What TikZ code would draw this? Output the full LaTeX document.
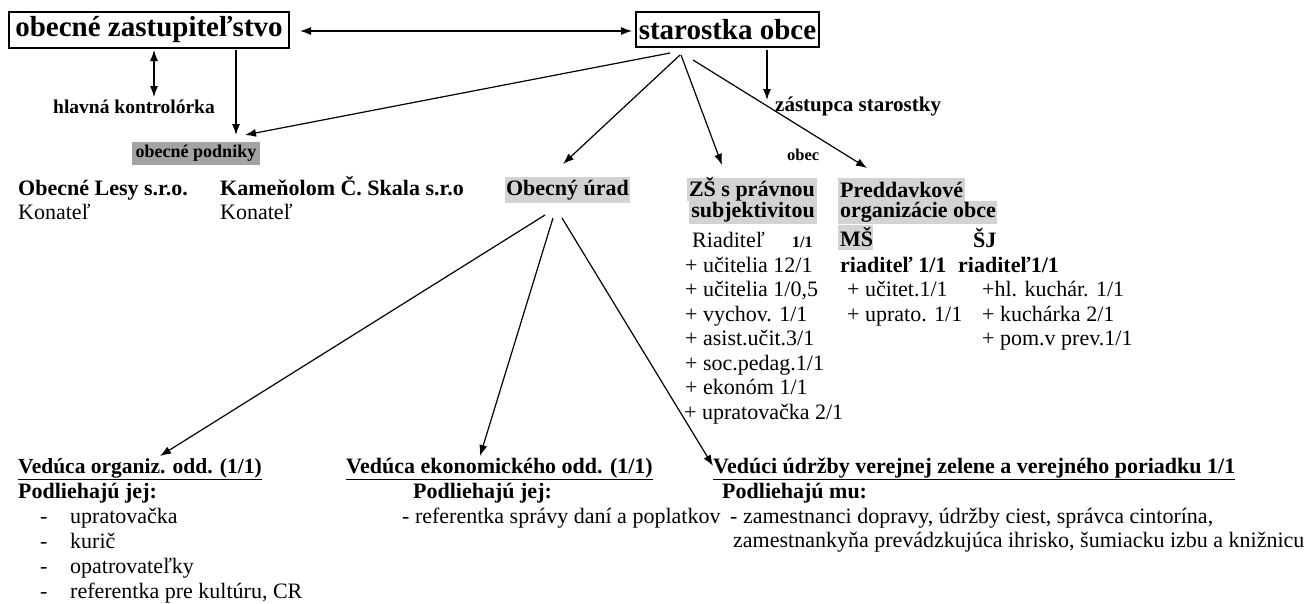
\documentclass[tikz,border=0pt]{standalone}
\usepackage{fontspec}
\setmainfont{Liberation Serif}
\usetikzlibrary{arrows.meta}
\definecolor{hlgrey}{HTML}{D3D3D3}
\definecolor{dkgrey}{HTML}{A3A3A3}
\newcommand{\fs}[1]{\fontsize{#1}{#1}\selectfont}
\tikzset{
  txt/.style={anchor=base west, inner sep=0pt, font=\fs{22}},
  btxt/.style={anchor=base west, inner sep=0pt, font=\fs{22}\bfseries},
  topbox/.style={draw, line width=1.1pt, inner sep=0pt, font=\fs{29}\bfseries},
  hlbox/.style={fill=hlgrey, inner sep=0pt, font=\fs{22}\bfseries},
  conn/.style={line width=1.2pt, -{Latex[length=11pt,width=8pt]}},
  dconn/.style={line width=1.2pt, {Latex[length=11pt,width=8pt]}-{Latex[length=11pt,width=8pt]}}
}
\begin{document}
\begin{tikzpicture}[x=1pt,y=-1pt]
\useasboundingbox (0,0) rectangle (1311,603);
% top boxes
\node[topbox, minimum width=280pt, minimum height=36pt] (zast) at (149,30) {obecné zastupiteľstvo};
\node[topbox, minimum width=183pt, minimum height=35pt] (star) at (727.5,29.5) {starostka obce};
% labels
\node[btxt, font=\fs{19.5}\bfseries] (kontr) at (53,113) {hlavná kontrolórka};
\node[fill=dkgrey, inner sep=0pt, minimum width=128pt, minimum height=23pt, font=\fs{18}\bfseries] (podn) at (196,153.5) {obecné podniky};
\node[btxt, font=\fs{21}\bfseries] (zast2) at (775,111) {zástupca starostky};
\node[btxt, font=\fs{16.5}\bfseries] (obec) at (787,160) {obec};
\node[btxt] (lesy) at (18,195) {Obecné Lesy s.r.o.};
\node[txt] (kon1) at (18,219) {Konateľ};
\node[btxt] (kamen) at (220,195) {Kameňolom Č. Skala s.r.o};
\node[txt] (kon2) at (220,219) {Konateľ};
\node[hlbox, minimum width=125pt, minimum height=26pt] (urad) at (567.5,190) {Obecný úrad};
\node[hlbox, minimum width=130pt, minimum height=23pt] (zs1) at (752,189.5) {ZŠ s právnou};
\node[hlbox, minimum width=128pt, minimum height=23pt] (zs2) at (753,212.5) {subjektivitou};
\node[hlbox, anchor=west, minimum height=23pt] (pred1) at (838,189.5) {\makebox[127pt][l]{\hspace*{2pt}Preddavkové}};
\node[hlbox, anchor=west, minimum height=23pt] (pred2) at (838,212.5) {\makebox[159pt][l]{\hspace*{2pt}organizácie obce}};
\node[hlbox, anchor=west, minimum height=25pt] (ms) at (838,237) {\makebox[35pt][l]{\hspace*{2pt}MŠ}};
% ZS list
\node[txt] (riad) at (692,247) {Riaditeľ};
\node[btxt, font=\fs{16}\bfseries] (riad1) at (792,247) {1/1};
\node[txt] (z1) at (685,272) {+ učitelia 12/1};
\node[txt] (z2) at (685,296) {+ učitelia 1/0,5};
\node[txt] (z3) at (685,321) {+ vychov. 1/1};
\node[txt] (z4) at (685,345) {+ asist.učit.3/1};
\node[txt] (z5) at (685,370) {+ soc.pedag.1/1};
\node[txt] (z6) at (685,394) {+ ekonóm 1/1};
\node[txt] (z7) at (684,419) {+ upratovačka 2/1};
% MS / SJ
\node[btxt] (sj) at (973,247) {ŠJ};
\node[btxt] (msr) at (840,272) {riaditeľ 1/1};
\node[btxt] (sjr) at (958,272) {riaditeľ1/1};
\node[txt] (m1) at (847,296) {+ učitet.1/1};
\node[txt] (m2) at (847,321) {+ uprato. 1/1};
\node[txt] (s1) at (982,296) {+hl. kuchár. 1/1};
\node[txt] (s2) at (982,321) {+ kuchárka 2/1};
\node[txt] (s3) at (982,345) {+ pom.v prev.1/1};
% bottom
\node[btxt, font=\fs{21.5}\bfseries] (org) at (18,473) {\underline{Vedúca organiz. odd. (1/1)}};
\node[btxt] (org2) at (18,498) {Podliehajú jej:};
\node[txt] (od1) at (40,523) {-};
\node[txt] (o1) at (70,523) {upratovačka};
\node[txt] (od2) at (40,548) {-};
\node[txt] (o2) at (70,548) {kurič};
\node[txt] (od3) at (40,573) {-};
\node[txt] (o3) at (70,573) {opatrovateľky};
\node[txt] (od4) at (40,598) {-};
\node[txt] (o4) at (70,598) {referentka pre kultúru, CR};
\node[btxt] (eko) at (346,473) {\underline{Vedúca ekonomického odd. (1/1)}};
\node[btxt] (eko2) at (413,498) {Podliehajú jej:};
\node[txt] (e1) at (402,523) {- referentka správy daní a poplatkov};
\node[btxt] (udr) at (713,473) {\underline{Vedúci údržby verejnej zelene a verejného poriadku 1/1}};
\node[btxt] (udr2) at (722,498) {Podliehajú mu:};
\node[txt] (u1) at (730,523) {- zamestnanci dopravy, údržby ciest, správca cintorína,};
\node[txt] (u2) at (733,547) {zamestnankyňa prevádzkujúca ihrisko, šumiacku izbu a knižnicu};
% connector points
\coordinate (zr) at (300,31);
\coordinate (sl) at (632,31);
\coordinate (k1) at (154,50);
\coordinate (k2) at (154,97);
\coordinate (zp1) at (236,50);
\coordinate (zp2) at (236,135);
\coordinate (sa) at (670,53);
\coordinate (sp) at (245,135);
\coordinate (sb) at (680,55);
\coordinate (su) at (563,164);
\coordinate (sc) at (681,55);
\coordinate (sz) at (722,165);
\coordinate (sd) at (693,60);
\coordinate (spd) at (867,168);
\coordinate (se) at (767,50);
\coordinate (sza) at (767,100);
\coordinate (ua) at (545,215);
\coordinate (uo) at (160,456);
\coordinate (ub) at (553,218);
\coordinate (ue) at (480,456);
\coordinate (uc) at (562,218);
\coordinate (uu) at (713,466);
% connectors
\draw[dconn] (zr) -- (sl);
\draw[dconn] (k1) -- (k2);
\draw[conn] (zp1) -- (zp2);
\draw[conn] (sa) -- (sp);
\draw[conn] (sb) -- (su);
\draw[conn] (sc) -- (sz);
\draw[conn] (sd) -- (spd);
\draw[conn] (se) -- (sza);
\draw[conn] (ua) -- (uo);
\draw[conn] (ub) -- (ue);
\draw[conn] (uc) -- (uu);
\end{tikzpicture}
\end{document}
